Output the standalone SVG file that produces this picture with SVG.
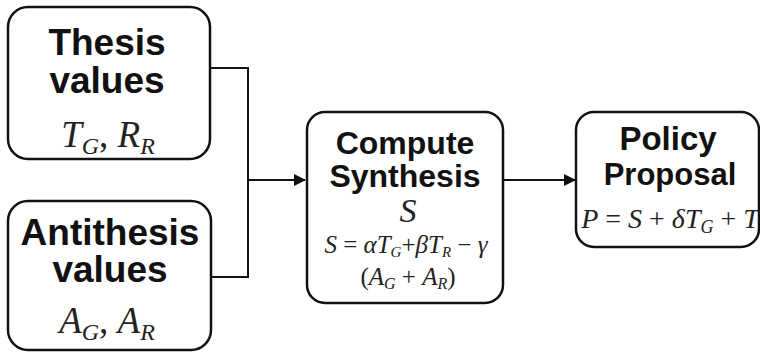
<svg xmlns="http://www.w3.org/2000/svg" width="760" height="352" viewBox="0 0 760 352">
<style>
.box{fill:#fff;stroke:#111;stroke-width:2.5}
.t{font-family:"Liberation Sans",Arial,sans-serif;font-weight:bold;fill:#111;text-anchor:middle}
.m{font-family:"Liberation Serif","Times New Roman",serif;font-style:italic;fill:#222;text-anchor:middle}
.r{font-style:normal}
.c{fill:none;stroke:#111;stroke-width:2}
</style>
<defs>
<marker id="ah" markerWidth="12" markerHeight="12" refX="11" refY="6" orient="auto" markerUnits="userSpaceOnUse">
<path d="M0,0 L12,6 L0,12 Z" fill="#111"/>
</marker>
</defs>
<g id="connectors">
<path class="c" d="M210,68 H248 V277 H211"/>
<path class="c" d="M248,180 H305" marker-end="url(#ah)"/>
<path class="c" d="M503,180 H575" marker-end="url(#ah)"/>
</g>
<g id="thesis">
<rect class="box" x="8" y="7" width="202" height="152" rx="20"/>
<text class="t" x="107" y="55" font-size="37">Thesis</text>
<text class="t" x="107" y="93" font-size="37">values</text>
<text class="m" x="108" y="147" font-size="37">T<tspan font-size="24" dy="7">G</tspan><tspan class="r" dy="-7">, </tspan>R<tspan font-size="24" dy="7">R</tspan></text>
</g>
<g id="antithesis">
<rect class="box" x="8" y="201" width="203" height="149" rx="20"/>
<text class="t" x="110" y="245" font-size="37">Antithesis</text>
<text class="t" x="110" y="282" font-size="37">values</text>
<text class="m" x="107" y="333" font-size="37">A<tspan font-size="24" dy="7">G</tspan><tspan class="r" dy="-7">, </tspan>A<tspan font-size="24" dy="7">R</tspan></text>
</g>
<g id="compute">
<rect class="box" x="307" y="112" width="196" height="191" rx="18"/>
<text class="t" x="405" y="154" font-size="32">Compute</text>
<text class="t" x="405" y="187" font-size="32">Synthesis</text>
<text class="m" x="408" y="222" font-size="34">S</text>
<text class="m" x="406" y="253" font-size="25">S<tspan class="r"> = </tspan>αT<tspan font-size="15" dy="4">G</tspan><tspan class="r" dy="-4">+</tspan>βT<tspan font-size="15" dy="4">R</tspan><tspan class="r" dy="-4"> − </tspan>γ</text>
<text class="m" x="408" y="285" font-size="25"><tspan class="r">(</tspan>A<tspan font-size="16" dy="4">G</tspan><tspan class="r" dy="-4"> + </tspan>A<tspan font-size="16" dy="4">R</tspan><tspan class="r" dy="-4">)</tspan></text>
</g>
<g id="policy">
<rect class="box" x="576" y="112" width="183" height="135" rx="18"/>
<text class="t" x="668" y="150" font-size="33">Policy</text>
<text class="t" x="670" y="185" font-size="31">Proposal</text>
<text class="m" x="670" y="228" font-size="28">P<tspan class="r"> = </tspan>S<tspan class="r"> + </tspan>δT<tspan font-size="18" dy="5">G</tspan><tspan class="r" dy="-5"> + </tspan>T</text>
</g>
</svg>
